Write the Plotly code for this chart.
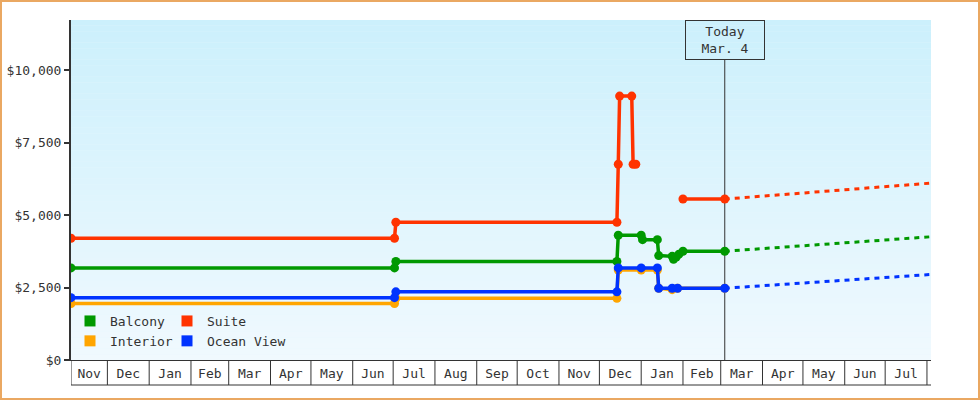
import pandas as pd
import plotly.graph_objects as go

# ── data ─────────────────────────────────────────────────────────────
BALCONY_DATES = ["2013-11-04", "2014-07-02", "2014-07-03", "2014-12-14", "2014-12-15",
                 "2015-01-01", "2015-01-02", "2015-01-13", "2015-01-14", "2015-01-24",
                 "2015-01-25", "2015-01-27", "2015-01-29", "2015-02-01", "2015-03-04"]
BALCONY_PRICES = [3175, 3175, 3400, 3400, 4300,
                  4300, 4150, 4150, 3600, 3575,
                  3475, 3550, 3650, 3750, 3750]

SUITE_DATES = ["2013-11-04", "2014-07-02", "2014-07-03", "2014-12-14", "2014-12-15",
               "2014-12-16", "2014-12-25", "2014-12-26", "2014-12-28", None,
               "2015-02-01", "2015-03-04"]
SUITE_PRICES = [4200, 4200, 4750, 4750, 6750,
                9100, 9100, 6750, 6750, None,
                5550, 5550]

INTERIOR_DATES = ["2013-11-04", "2014-07-02", "2014-07-03", "2014-12-14", "2014-12-15",
                  "2015-01-01", "2015-01-13", "2015-01-14", "2015-01-24", "2015-01-28",
                  "2015-03-04"]
INTERIOR_PRICES = [1950, 1950, 2125, 2125, 3100,
                   3100, 3100, 2475, 2425, 2475,
                   2475]

OCEAN_DATES = ["2013-11-04", "2014-07-02", "2014-07-03", "2014-12-14", "2014-12-15",
               "2015-01-01", "2015-01-13", "2015-01-14", "2015-01-24", "2015-01-28",
               "2015-03-04"]
OCEAN_PRICES = [2150, 2150, 2350, 2350, 3175,
                3175, 3175, 2475, 2475, 2475,
                2475]

# projected trend from today to the end of the axis
PROJ_DATES = ["2015-03-04", "2015-08-04"]
PROJ_BALCONY = [3750, 4250]
PROJ_SUITE = [5550, 6100]
PROJ_OCEAN = [2475, 2950]

TODAY = "2015-03-04"
TODAY_LABEL = "Today<br>Mar. 4"

X_START, X_END = "2013-11-04", "2015-08-04"
MONTH_LABELS = ["Nov", "Dec", "Jan", "Feb", "Mar", "Apr", "May", "Jun", "Jul", "Aug", "Sep",
                "Oct", "Nov", "Dec", "Jan", "Feb", "Mar", "Apr", "May", "Jun", "Jul"]
Y_TICKS = [0, 2500, 5000, 7500, 10000]
Y_MAX = 11724

COLORS = {"Balcony": "#009900", "Suite": "#ff3300",
          "Interior": "#ffa500", "Ocean View": "#0033ff"}
INK = "#333333"
FONT = "DejaVu Sans Mono"

# ── figure ───────────────────────────────────────────────────────────
W, H = 980, 400
M = dict(l=71, r=49, t=20, b=40)
PH = H - M["t"] - M["b"]
PW = W - M["l"] - M["r"]

fig = go.Figure()

series = [
    ("Balcony", BALCONY_DATES, BALCONY_PRICES),
    ("Suite", SUITE_DATES, SUITE_PRICES),
    ("Interior", INTERIOR_DATES, INTERIOR_PRICES),
    ("Ocean View", OCEAN_DATES, OCEAN_PRICES),
]
for name, xs, ys in series:
    fig.add_trace(go.Scatter(
        x=xs, y=ys, mode="lines+markers", name=name, showlegend=False,
        line=dict(color=COLORS[name], width=3.5),
        marker=dict(color=COLORS[name], size=9),
        connectgaps=False, hoverinfo="x+y",
    ))

for name, ys in [("Balcony", PROJ_BALCONY), ("Suite", PROJ_SUITE), ("Ocean View", PROJ_OCEAN)]:
    fig.add_trace(go.Scatter(
        x=PROJ_DATES, y=ys, mode="lines", showlegend=False,
        line=dict(color=COLORS[name], width=3, dash="5px,5px"),
    ))

# legend swatches, two columns
for name, leg in [("Balcony", "legend"), ("Interior", "legend"),
                  ("Suite", "legend2"), ("Ocean View", "legend2")]:
    fig.add_trace(go.Scatter(
        x=[None], y=[None], mode="markers", name=name, legend=leg,
        marker=dict(color=COLORS[name], size=11, symbol="square"),
    ))

# ── shapes: gradient background, today line, month cells, border ────
shapes = []
n_bands = 60
top, bot = (204, 240, 252), (240, 249, 254)
for i in range(n_bands):
    t = i / (n_bands - 1)
    c = tuple(round(top[k] + (bot[k] - top[k]) * t) for k in range(3))
    shapes.append(dict(type="rect", xref="paper", yref="paper", layer="below",
                       x0=0, x1=1, y0=1 - (i + 1) / n_bands, y1=1 - i / n_bands,
                       fillcolor=f"rgb{c}", line=dict(width=0)))

box_bottom = (PH - 40) / PH
shapes.append(dict(type="line", xref="x", yref="paper", layer="below",
                   x0=TODAY, x1=TODAY, y0=0, y1=box_bottom,
                   line=dict(color=INK, width=1)))

cell_h = -25 / PH
month_starts = pd.date_range("2013-12-01", X_END, freq="MS")
for d in [pd.Timestamp(X_START)] + list(month_starts):
    shapes.append(dict(type="line", xref="x", yref="paper", x0=d, x1=d,
                       y0=0, y1=cell_h, line=dict(color=INK, width=1)))
shapes.append(dict(type="line", xref="x", yref="paper", x0=X_START, x1=X_END,
                   y0=cell_h, y1=cell_h, line=dict(color=INK, width=1)))

shapes.append(dict(type="rect", xref="paper", yref="paper",
                   x0=(1 - M["l"]) / PW, x1=(W - 1 - M["l"]) / PW,
                   y0=-(M["b"] - 1) / PH, y1=(PH + M["t"] - 1) / PH,
                   line=dict(color="#eaa862", width=2)))

# month label positions: middle of each visible month
edges = [pd.Timestamp(X_START)] + list(month_starts)
tick_mid = [edges[i] + (edges[i + 1] - edges[i]) / 2 for i in range(len(MONTH_LABELS))]

legend_top = (PH - 306 + M["t"]) / PH
fig.update_layout(
    width=W, height=H,
    margin=M,
    paper_bgcolor="white",
    plot_bgcolor="#e6f6fd",
    font=dict(family=FONT, size=13, color=INK),
    shapes=shapes,
    showlegend=True,
    legend=dict(x=(70 - M["l"]) / PW, y=legend_top, xanchor="left", yanchor="top",
                bgcolor="rgba(0,0,0,0)", font=dict(family=FONT, size=13, color=INK),
                tracegroupgap=0, itemclick=False),
    legend2=dict(x=(167 - M["l"]) / PW, y=legend_top, xanchor="left", yanchor="top",
                 bgcolor="rgba(0,0,0,0)", font=dict(family=FONT, size=13, color=INK),
                 tracegroupgap=0, itemclick=False),
    annotations=[dict(
        x=TODAY, xref="x", y=1, yref="paper", xanchor="center", yanchor="top",
        text=TODAY_LABEL, showarrow=False, align="center",
        font=dict(family=FONT, size=13, color=INK),
        bordercolor=INK, borderwidth=1, borderpad=3, width=72, height=32,
    )],
    xaxis=dict(
        type="date", range=[X_START, X_END], automargin=False,
        tickvals=tick_mid, ticktext=MONTH_LABELS, ticks="",
        ticklabelstandoff=1,
        showgrid=False, zeroline=False,
        showline=True, linecolor=INK, linewidth=1,
    ),
    yaxis=dict(
        range=[0, Y_MAX], tickvals=Y_TICKS, tickformat="$,", automargin=False,
        ticks="outside", ticklen=5, tickwidth=2, tickcolor=INK,
        showgrid=False, zeroline=False,
        showline=True, linecolor=INK, linewidth=2,
    ),
)

fig.write_html("out.html", config=dict(displayModeBar=False),
               post_script="document.body.style.margin='0';")
